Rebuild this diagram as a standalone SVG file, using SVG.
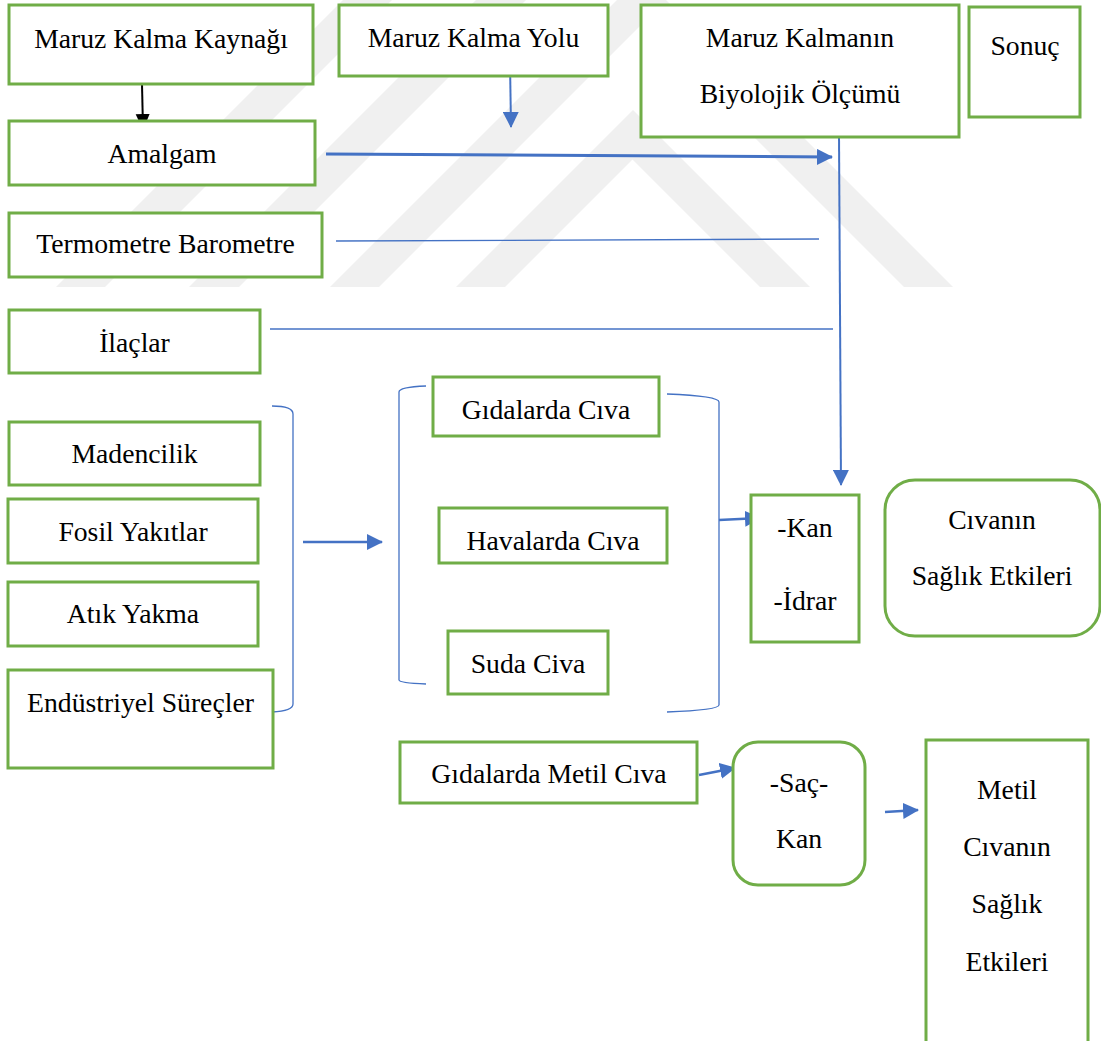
<svg xmlns="http://www.w3.org/2000/svg" width="1101" height="1041" viewBox="0 0 1101 1041">
<defs>
<style>
.box{fill:#ffffff;stroke:#70AD47;stroke-width:3}
.t{font-family:'Liberation Serif','DejaVu Serif',serif;font-size:27.7px;fill:#000000;text-anchor:middle}
.c{fill:none;stroke:#4472C4}
.wm{fill:#f0f0f0}
</style>
<marker id="ab" markerUnits="userSpaceOnUse" markerWidth="16" markerHeight="16" refX="15" refY="8" orient="auto">
<path d="M0,0 L16,8 L0,16 z" fill="#4472C4"/>
</marker>
<marker id="ak" markerUnits="userSpaceOnUse" markerWidth="16" markerHeight="16" refX="15" refY="8" orient="auto">
<path d="M0,1 L16,8 L0,15 z" fill="#000000"/>
</marker>
</defs>
<rect x="0" y="0" width="1101" height="1041" fill="#ffffff"/>
<g id="watermark">
<polygon class="wm" points="330,287 641.5,-24.5 953,287 904,287 641.5,24.5 379,287"/>
<polygon class="wm" points="456,287 633,110 810,287 760,287 632.5,159.5 505,287"/>
<polygon class="wm" points="56,287 343,0 392,0 105,287"/>
<polygon class="wm" points="189,287 476,0 526,0 239,287"/>
</g>
<g id="connectors">
<path class="c" d="M142,84 L143,129" style="stroke:#000000;stroke-width:2" marker-end="url(#ak)"/>
<path class="c" d="M510,63 L511,127" stroke-width="2" marker-end="url(#ab)"/>
<path class="c" d="M326,154 L832,157" stroke-width="3" marker-end="url(#ab)"/>
<path class="c" d="M336,241 L819,239" stroke-width="1.3"/>
<path class="c" d="M270,329 L833,329" stroke-width="1.5"/>
<path class="c" d="M839,135 L841,485" stroke-width="2" marker-end="url(#ab)"/>
<path class="c" d="M272,406 Q293,406 293,414 L293,704 Q293,711 272,712" stroke-width="1.3"/>
<path class="c" d="M303,542 L382,542" stroke-width="2.5" marker-end="url(#ab)"/>
<path class="c" d="M426,386 Q399,387 399,392 L399,680 Q399,683 426,684" stroke-width="1.3"/>
<path class="c" d="M667,394 Q719,396 719,402 L719,705 Q719,710 667,712" stroke-width="1.3"/>
<path class="c" d="M719,520 L760,518" stroke-width="2.5" marker-end="url(#ab)"/>
<path class="c" d="M699,775 L735,768" stroke-width="2.5" marker-end="url(#ab)"/>
<path class="c" d="M885,812 L918,810" stroke-width="2.5" marker-end="url(#ab)"/>
</g>
<g id="n-kaynak"><rect class="box" x="9" y="5" width="304" height="79"/><text class="t" x="161" y="48">Maruz Kalma Kaynağı</text></g>
<g id="n-yolu"><rect class="box" x="339" y="5" width="269" height="71"/><text class="t" x="473.5" y="47">Maruz Kalma Yolu</text></g>
<g id="n-biyolojik"><rect class="box" x="641" y="5" width="318" height="132"/><text class="t" x="800" y="47">Maruz Kalmanın</text><text class="t" x="800" y="103">Biyolojik Ölçümü</text></g>
<g id="n-sonuc"><rect class="box" x="969" y="7" width="111" height="110"/><text class="t" x="1025" y="55">Sonuç</text></g>
<g id="n-amalgam"><rect class="box" x="9" y="121" width="306" height="64"/><text class="t" x="162" y="163">Amalgam</text></g>
<g id="n-termometre"><rect class="box" x="9" y="213" width="313" height="64"/><text class="t" x="165.5" y="253">Termometre Barometre</text></g>
<g id="n-ilaclar"><rect class="box" x="9" y="310" width="251" height="63"/><text class="t" x="134.5" y="352">İlaçlar</text></g>
<g id="n-madencilik"><rect class="box" x="9" y="422" width="251" height="63"/><text class="t" x="134.5" y="463">Madencilik</text></g>
<g id="n-fosil"><rect class="box" x="8" y="499" width="250" height="64"/><text class="t" x="133" y="541">Fosil Yakıtlar</text></g>
<g id="n-atik"><rect class="box" x="8" y="582" width="250" height="64"/><text class="t" x="133" y="623">Atık Yakma</text></g>
<g id="n-endustriyel"><rect class="box" x="8" y="670" width="265" height="98"/><text class="t" x="140.5" y="712">Endüstriyel Süreçler</text></g>
<g id="n-gida"><rect class="box" x="433" y="377" width="226" height="59"/><text class="t" x="546" y="419">Gıdalarda Cıva</text></g>
<g id="n-hava"><rect class="box" x="439" y="508" width="228" height="55"/><text class="t" x="553" y="550">Havalarda Cıva</text></g>
<g id="n-su"><rect class="box" x="448" y="631" width="160" height="63"/><text class="t" x="528" y="673">Suda Civa</text></g>
<g id="n-kan"><rect class="box" x="751" y="495" width="108" height="147"/><text class="t" x="805" y="537">-Kan</text><text class="t" x="805" y="610">-İdrar</text></g>
<g id="n-saglik"><rect class="box" x="885" y="480" width="215" height="156" rx="30" ry="30"/><text class="t" x="992" y="529">Cıvanın</text><text class="t" x="992" y="585">Sağlık Etkileri</text></g>
<g id="n-metil"><rect class="box" x="400" y="742" width="297" height="61"/><text class="t" x="549" y="783">Gıdalarda Metil Cıva</text></g>
<g id="n-sac"><rect class="box" x="733" y="742" width="132" height="143" rx="25" ry="25"/><text class="t" x="799" y="792">-Saç-</text><text class="t" x="799" y="848">Kan</text></g>
<g id="n-metil-etki"><rect class="box" x="926" y="740" width="162" height="330"/><text class="t" x="1007" y="799">Metil</text><text class="t" x="1007" y="856">Cıvanın</text><text class="t" x="1007" y="913">Sağlık</text><text class="t" x="1007" y="971">Etkileri</text></g>
</svg>
